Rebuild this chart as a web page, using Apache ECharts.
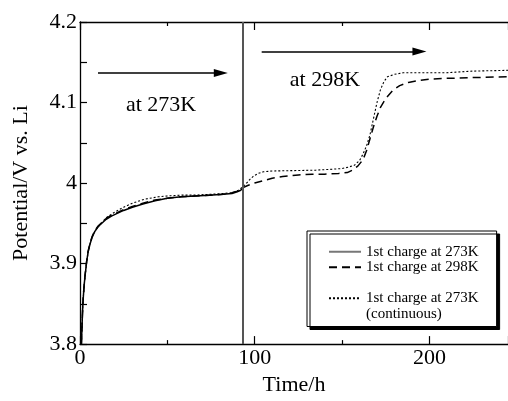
<!DOCTYPE html>
<html>
<head>
<meta charset="utf-8">
<script src="https://cdn.jsdelivr.net/npm/echarts@6/dist/echarts.min.js"></script>
<style>html,body{margin:0;padding:0;background:#fff;}#c{width:508px;height:401px;}</style>
</head>
<body>
<div id="c"></div>
<script>
// ---- data ----
var seriesNames = ['1st charge at 273K', '1st charge at 298K', '1st charge at 273K (continuous)'];
var legendLabels = ['1st charge at 273K', '1st charge at 298K', '\n1st charge at 273K\n(continuous)'];

var t273 = [0.8, 1.2, 1.6, 2.0, 2.5, 3.0, 3.8, 4.6, 5.7, 7.0, 8.5, 10.5, 12.5, 15, 18, 21, 25, 30, 36, 43, 50, 58, 66, 74, 82, 87, 90, 92, 93.2];
var v273 = [3.800, 3.825, 3.848, 3.862, 3.876, 3.887, 3.902, 3.914, 3.924, 3.933, 3.940, 3.946, 3.950, 3.955, 3.959, 3.962, 3.966, 3.970, 3.974, 3.978, 3.981, 3.983, 3.984, 3.985, 3.986, 3.987, 3.989, 3.991, 3.994];

var t298 = [0.8, 1.2, 1.6, 2.0, 2.5, 3.0, 3.8, 4.6, 5.7, 7.0, 8.5, 10.5, 12.5, 15, 18, 21, 25, 30, 36, 43, 50, 58, 66, 74, 82, 87, 90, 93, 96, 100, 105, 110, 116, 125, 133, 140, 148, 153, 156, 159, 162, 164, 166, 168, 170, 172, 175, 179, 183, 188, 193, 200, 210, 225, 245];
var v298 = [3.800, 3.826, 3.849, 3.863, 3.877, 3.888, 3.903, 3.915, 3.925, 3.934, 3.941, 3.947, 3.951, 3.956, 3.960, 3.963, 3.967, 3.971, 3.975, 3.979, 3.981, 3.983, 3.984, 3.985, 3.986, 3.988, 3.990, 3.994, 3.997, 4.000, 4.003, 4.006, 4.008, 4.010, 4.011, 4.011, 4.012, 4.013, 4.016, 4.021, 4.029, 4.040, 4.055, 4.070, 4.083, 4.094, 4.105, 4.115, 4.121, 4.125, 4.127, 4.129, 4.130, 4.131, 4.132];

var tCont = [0.8, 1.2, 1.6, 2.0, 2.5, 3.0, 3.8, 4.6, 5.7, 7.0, 8.5, 10.5, 12.5, 15, 20, 25, 30, 37, 45, 50, 58, 66, 74, 82, 87, 90, 93, 95, 97, 99, 102, 105, 110, 124, 135, 143, 150, 154, 157, 160, 162, 164, 166, 168, 170, 172, 174, 176, 180, 185, 200, 210, 225, 245];
var vCont = [3.800, 3.824, 3.847, 3.861, 3.875, 3.886, 3.901, 3.913, 3.924, 3.933, 3.940, 3.946, 3.951, 3.957, 3.964, 3.970, 3.975, 3.980, 3.983, 3.984, 3.985, 3.985, 3.986, 3.987, 3.988, 3.990, 3.995, 3.999, 4.004, 4.008, 4.012, 4.014, 4.015, 4.0155, 4.016, 4.017, 4.018, 4.020, 4.022, 4.028, 4.036, 4.046, 4.060, 4.080, 4.100, 4.116, 4.126, 4.132, 4.135, 4.137, 4.137, 4.137, 4.139, 4.140];

var switchTime = 93;            // temperature change (vertical line)
var arrowStartT = [10.3, 104];  // arrow start times
var arrowEndT = [80.6, 194.3];  // arrow head centre times
var arrowV = [4.1366, 4.1634];  // arrow heights
var noteText = ['at 273K', 'at 298K'];
var noteT = [46.4, 140.2];
var noteV = [4.0965, 4.128];

var xTicks = [0, 100, 200];
var yTicks = [3.8, 3.9, 4.0, 4.1, 4.2];

function pairs(t, v) { return t.map(function (x, i) { return [x, v[i]]; }); }

var FONT = 'Liberation Serif';
var chart = echarts.init(document.getElementById('c'), null, { renderer: 'canvas' });

var axisCommon = {
  type: 'value',
  axisLine: { show: true, lineStyle: { color: '#000', width: 1.3 } },
  splitLine: { show: false },
  axisTick: { show: true, inside: true, length: 8, lineStyle: { color: '#000', width: 1.2 } },
  minorTick: { show: true, splitNumber: 2, length: 4, lineStyle: { color: '#000', width: 1.2 } }
};

var option = {
  animation: false,
  backgroundColor: '#fff',
  textStyle: { fontFamily: FONT },
  grid: { left: 80, right: 0, top: 22, bottom: 51, containLabel: false },
  xAxis: [
    Object.assign({}, axisCommon, {
      min: xTicks[0], max: 245, interval: xTicks[1] - xTicks[0],
      name: 'Time/h', nameLocation: 'middle', nameGap: 28,
      nameTextStyle: { fontFamily: FONT, fontSize: 22, color: '#000' },
      axisLabel: { fontFamily: FONT, fontSize: 22, color: '#000', margin: 3, showMaxLabel: false }
    }),
    Object.assign({}, axisCommon, {
      position: 'top', min: xTicks[0], max: 245, interval: xTicks[1] - xTicks[0],
      axisLabel: { show: false }
    })
  ],
  yAxis: [
    Object.assign({}, axisCommon, {
      min: yTicks[0], max: yTicks[yTicks.length - 1], interval: 0.1,
      name: 'Potential/V vs. Li', nameLocation: 'middle', nameGap: 48,
      nameTextStyle: { fontFamily: FONT, fontSize: 22, color: '#000' },
      axisTick: { show: true, inside: true, length: 7, lineStyle: { color: '#000', width: 1.2 } },
      minorTick: { show: true, splitNumber: 2, length: 7, lineStyle: { color: '#000', width: 1.2 } },
      axisLabel: { fontFamily: FONT, fontSize: 22, color: '#000', margin: 3 }
    })
  ],
  legend: {
    left: 307, top: 231,
    orient: 'vertical',
    data: [
      { name: seriesNames[0], lineStyle: { color: '#777' } },
      { name: seriesNames[1] },
      { name: seriesNames[2] }
    ],
    formatter: function (name) { return legendLabels[seriesNames.indexOf(name)]; },
    itemWidth: 32, itemHeight: 14, itemGap: 0,
    padding: [13, 18, 5, 21],
    backgroundColor: '#fff',
    borderColor: '#000', borderWidth: 1, borderRadius: 0,
    shadowColor: '#000', shadowBlur: 0, shadowOffsetX: 3, shadowOffsetY: 3,
    itemStyle: { opacity: 0 },
    textStyle: { fontFamily: FONT, fontSize: 15, color: '#000', lineHeight: 15.5 }
  },
  series: [
    {
      name: seriesNames[0], type: 'line', showSymbol: false, symbol: 'none',
      data: pairs(t273, v273),
      lineStyle: { color: '#000', width: 1.5, type: 'solid' },
      itemStyle: { color: '#444' },
      z: 3,
      markLine: {
        silent: true, symbol: 'none',
        label: { show: false },
        lineStyle: { color: '#555', width: 2, type: 'solid' },
        data: [{ xAxis: switchTime }]
      }
    },
    {
      name: seriesNames[1], type: 'line', showSymbol: false, symbol: 'none',
      data: pairs(t298, v298),
      lineStyle: { color: '#000', width: 1.5, type: [8, 5] },
      itemStyle: { color: '#000' },
      z: 2
    },
    {
      name: seriesNames[2], type: 'line', showSymbol: false, symbol: 'none',
      data: pairs(tCont, vCont),
      lineStyle: { color: '#000', width: 1.1, type: [2, 2] },
      itemStyle: { color: '#000' },
      z: 2,
      markLine: {
        silent: true,
        symbol: ['none', 'triangle'],
        symbolSize: 12,
        label: { show: false },
        itemStyle: { color: '#000' },
        lineStyle: { color: '#000', width: 1.5, type: 'solid' },
        data: arrowStartT.map(function (s, i) {
          return [
            { coord: [s, arrowV[i]] },
            { coord: [arrowEndT[i], arrowV[i]], symbol: 'triangle', symbolSize: [8, 14] }
          ];
        })
      }
    },
    {
      name: 'notes', type: 'scatter', symbolSize: 1,
      itemStyle: { color: 'rgba(255,255,255,0)' },
      data: noteT.map(function (t, i) { return { value: [t, noteV[i]], name: noteText[i] }; }),
      label: {
        show: true, position: 'inside', formatter: '{b}',
        fontFamily: FONT, fontSize: 22, color: '#000', opacity: 1,
        textBorderWidth: 0
      }
    }
  ]
};
chart.setOption(option);
</script>
</body>
</html>
